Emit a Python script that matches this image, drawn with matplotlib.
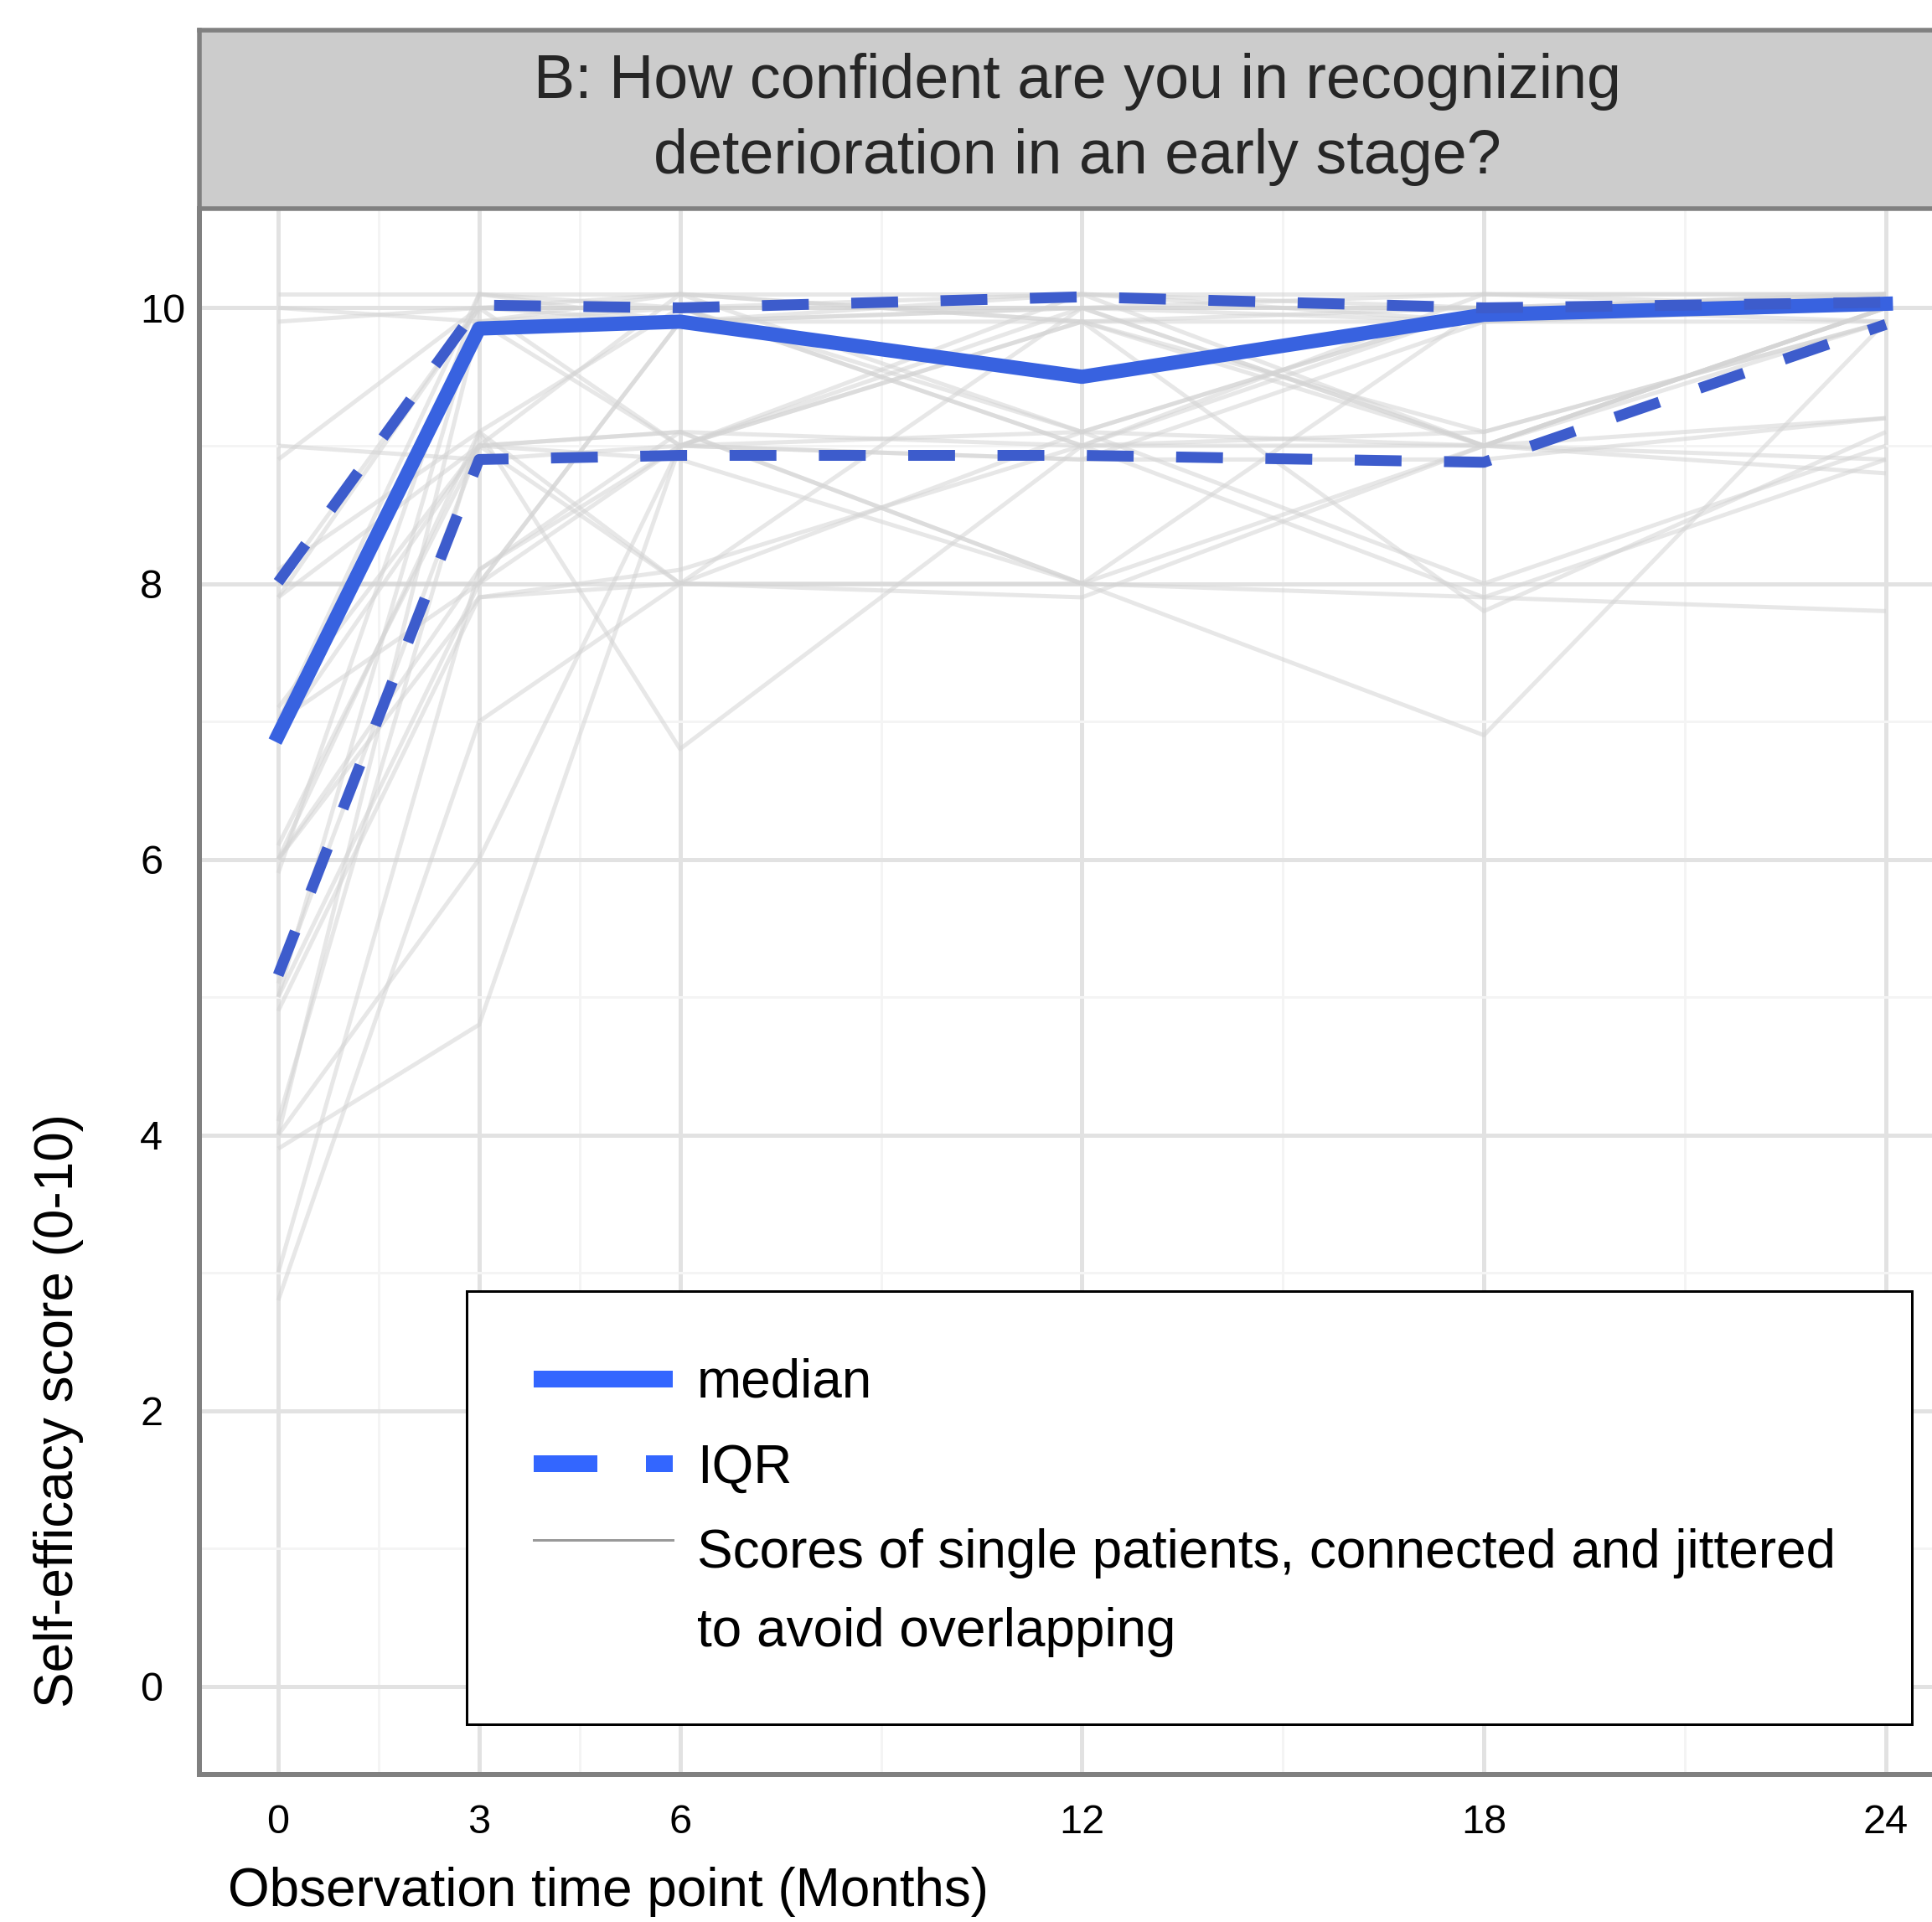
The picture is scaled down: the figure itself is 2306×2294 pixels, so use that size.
import matplotlib
matplotlib.use('Agg')
import matplotlib.pyplot as plt
from matplotlib.lines import Line2D
from matplotlib.legend_handler import HandlerLine2D

plt.rcParams['font.family'] = ['Liberation Sans', 'DejaVu Sans']

# ---------------- data ----------------
months = [0, 3, 6, 12, 18, 24]
x_ticks = [0, 3, 6, 12, 18, 24]
x_minor = [1.5, 4.5, 9, 15, 21]
y_ticks = [0, 2, 4, 6, 8, 10]
y_minor = [1, 3, 5, 7, 9]

median = [6.90, 9.85, 9.90, 9.50, 9.95, 10.03]
iqr_upper = [8.01, 10.02, 10.00, 10.08, 10.00, 10.04]
iqr_lower = [5.16, 8.90, 8.93, 8.93, 8.88, 9.88]

# jittered single-patient scores at months 0, 3, 6, 12, 18, 24
patient_scores = [
    [10.1, 10.1, 10.1, 10.1, 10.1, 10.1],
    [9.9, 10.0, 9.9, 10.0, 10.0, 10.0],
    [10.0, 9.9, 10.1, 9.9, 9.9, 10.1],
    [8.0, 10.0, 10.0, 9.1, 10.0, 10.0],
    [8.1, 9.1, 10.0, 10.1, 9.0, 10.0],
    [7.9, 9.0, 9.1, 9.0, 9.1, 9.9],
    [7.0, 10.1, 9.9, 10.0, 9.9, 9.9],
    [7.1, 9.0, 8.0, 9.1, 9.0, 10.0],
    [7.0, 8.0, 9.0, 8.9, 8.9, 9.2],
    [6.9, 9.9, 10.0, 9.0, 10.1, 10.1],
    [6.0, 8.1, 9.0, 10.0, 9.0, 9.9],
    [6.1, 9.0, 8.9, 8.0, 10.0, 10.0],
    [6.0, 7.9, 8.1, 9.0, 7.9, 8.9],
    [5.1, 9.0, 10.1, 9.1, 8.0, 9.0],
    [5.0, 8.0, 9.9, 10.1, 9.9, 10.0],
    [5.0, 10.0, 9.0, 9.9, 9.1, 9.9],
    [4.9, 7.9, 8.0, 8.0, 7.9, 7.8],
    [4.1, 9.1, 6.8, 9.0, 10.0, 9.9],
    [4.0, 6.0, 9.0, 9.9, 9.0, 10.0],
    [3.9, 4.8, 9.0, 8.9, 9.9, 10.0],
    [3.0, 8.1, 9.1, 8.0, 6.9, 9.9],
    [2.8, 7.0, 8.0, 10.0, 9.0, 10.0],
    [8.9, 10.0, 10.0, 9.0, 9.0, 8.9],
    [9.0, 8.9, 9.0, 10.1, 10.0, 10.1],
    [6.9, 9.0, 9.1, 8.0, 9.0, 9.2],
    [8.0, 8.0, 9.9, 9.9, 10.0, 10.0],
    [5.9, 10.1, 10.0, 10.0, 10.1, 10.0],
    [7.9, 10.0, 10.1, 9.9, 7.8, 9.1],
    [4.0, 9.9, 9.0, 9.1, 10.0, 10.1],
    [6.0, 9.1, 8.0, 7.9, 9.0, 8.8],
]

title_text = "B: How confident are you in recognizing\ndeterioration in an early stage?"
x_label = "Observation time point (Months)"
y_label = "Self-efficacy score (0-10)"
legend_labels = ["median", "IQR",
                 "Scores of single patients, connected and jittered\nto avoid overlapping"]

# ---------------- figure ----------------
W, H = 2306, 2294
fig = plt.figure(figsize=(W / 100, H / 100), dpi=100)
PX = 72 / 100  # points per pixel

ax_l, ax_r = 238, 2350
ax_t, ax_b = 249, 2118
ax = fig.add_axes([ax_l / W, 1 - ax_b / H, (ax_r - ax_l) / W, (ax_b - ax_t) / H])
ax.set_xlim(-1.176, 25.24)
ax.set_ylim(-0.64, 10.72)

ax.set_xticks(x_ticks)
ax.set_xticks(x_minor, minor=True)
ax.set_yticks(y_ticks)
ax.set_yticks(y_minor, minor=True)
ax.set_xticklabels([str(v) for v in x_ticks])
ax.set_yticklabels([str(v) for v in y_ticks])

ax.set_axisbelow(True)
ax.grid(which='major', color='#E2E2E2', lw=5 * PX)
ax.grid(which='minor', color='#F4F4F4', lw=3 * PX)

ax.tick_params(axis='x', which='major', length=0, pad=25, labelsize=35, labelcolor='black')
ax.tick_params(axis='y', which='major', length=0, pad=51, labelsize=35, labelcolor='black')
ax.tick_params(which='minor', length=0)
for lab in ax.get_yticklabels():
    lab.set_horizontalalignment('left')

for s in ['left', 'bottom']:
    ax.spines[s].set_color('#808080')
    ax.spines[s].set_linewidth(6 * PX)
for s in ['top', 'right']:
    ax.spines[s].set_visible(False)

# single patients
for ps in patient_scores:
    ax.plot(months, ps, color='#D4D4D4', alpha=0.55, lw=5 * PX,
            solid_capstyle='butt', zorder=2)

# median and IQR
ax.plot(months, median, color='#3862E0', lw=17 * PX, solid_joinstyle='round', zorder=4)
ax.plot(months, iqr_upper, color='#3D5CCC', lw=13 * PX, dashes=(4.3, 3.9), zorder=4)
ax.plot(months, iqr_lower, color='#3D5CCC', lw=13 * PX, dashes=(4.3, 3.9), zorder=4)

# axis labels
ax.set_xlabel(x_label, fontsize=46, ha='left')
ax.xaxis.set_label_coords((272 - ax_l) / (ax_r - ax_l), -(2228 - ax_b) / (ax_b - ax_t))
ax.set_ylabel(y_label, fontsize=46)
ax.yaxis.set_label_coords(-(ax_l - 100) / (ax_r - ax_l), (ax_b - 1684) / (ax_b - ax_t))


# legend
class RaisedLine(HandlerLine2D):
    def create_artists(self, legend, orig_handle, xdescent, ydescent, width, height,
                       fontsize, trans):
        arts = super().create_artists(legend, orig_handle, xdescent, ydescent, width,
                                      height, fontsize, trans)
        for a in arts:
            a.set_ydata([y + 1.0 * fontsize for y in a.get_ydata()])
        return arts


handles = [
    Line2D([], [], color='#3366FF', lw=20 * PX, solid_capstyle='butt'),
    Line2D([], [], color='#3366FF', lw=20 * PX, dashes=(3.8, 2.9), dash_capstyle='butt'),
    Line2D([], [], color='#999999', lw=3 * PX),
]
leg_l, leg_r, leg_t = 557, 2282, 1541
leg = ax.legend(handles, legend_labels, loc='upper left',
                bbox_to_anchor=((leg_l - ax_l) / (ax_r - ax_l), 0,
                                (leg_r - leg_l) / (ax_r - ax_l), (ax_b - leg_t) / (ax_b - ax_t)),
                mode='expand', borderaxespad=0, fontsize=46, frameon=True, fancybox=False,
                edgecolor='black', framealpha=1, borderpad=1.25, labelspacing=0.65,
                handlelength=2.6, handletextpad=0.45,
                handler_map={handles[2]: RaisedLine()})
leg.get_frame().set_linewidth(3 * PX)
leg.set_zorder(10)
for t in leg.get_texts():
    t.set_linespacing(1.72)

# strip
st_t = 36
sax = fig.add_axes([ax_l / W, 1 - ax_t / H, (ax_r - ax_l) / W, (ax_t - st_t) / H])
sax.set_facecolor('#CCCCCC')
sax.set_xticks([])
sax.set_yticks([])
for s in sax.spines.values():
    s.set_color('#808080')
    s.set_linewidth(5.5 * PX)
sax.text((1286 - ax_l) / (ax_r - ax_l), 0.5, title_text, transform=sax.transAxes,
         ha='center', va='center', fontsize=53, color='#262626', linespacing=1.4)

fig.savefig('out.png', dpi=100)
